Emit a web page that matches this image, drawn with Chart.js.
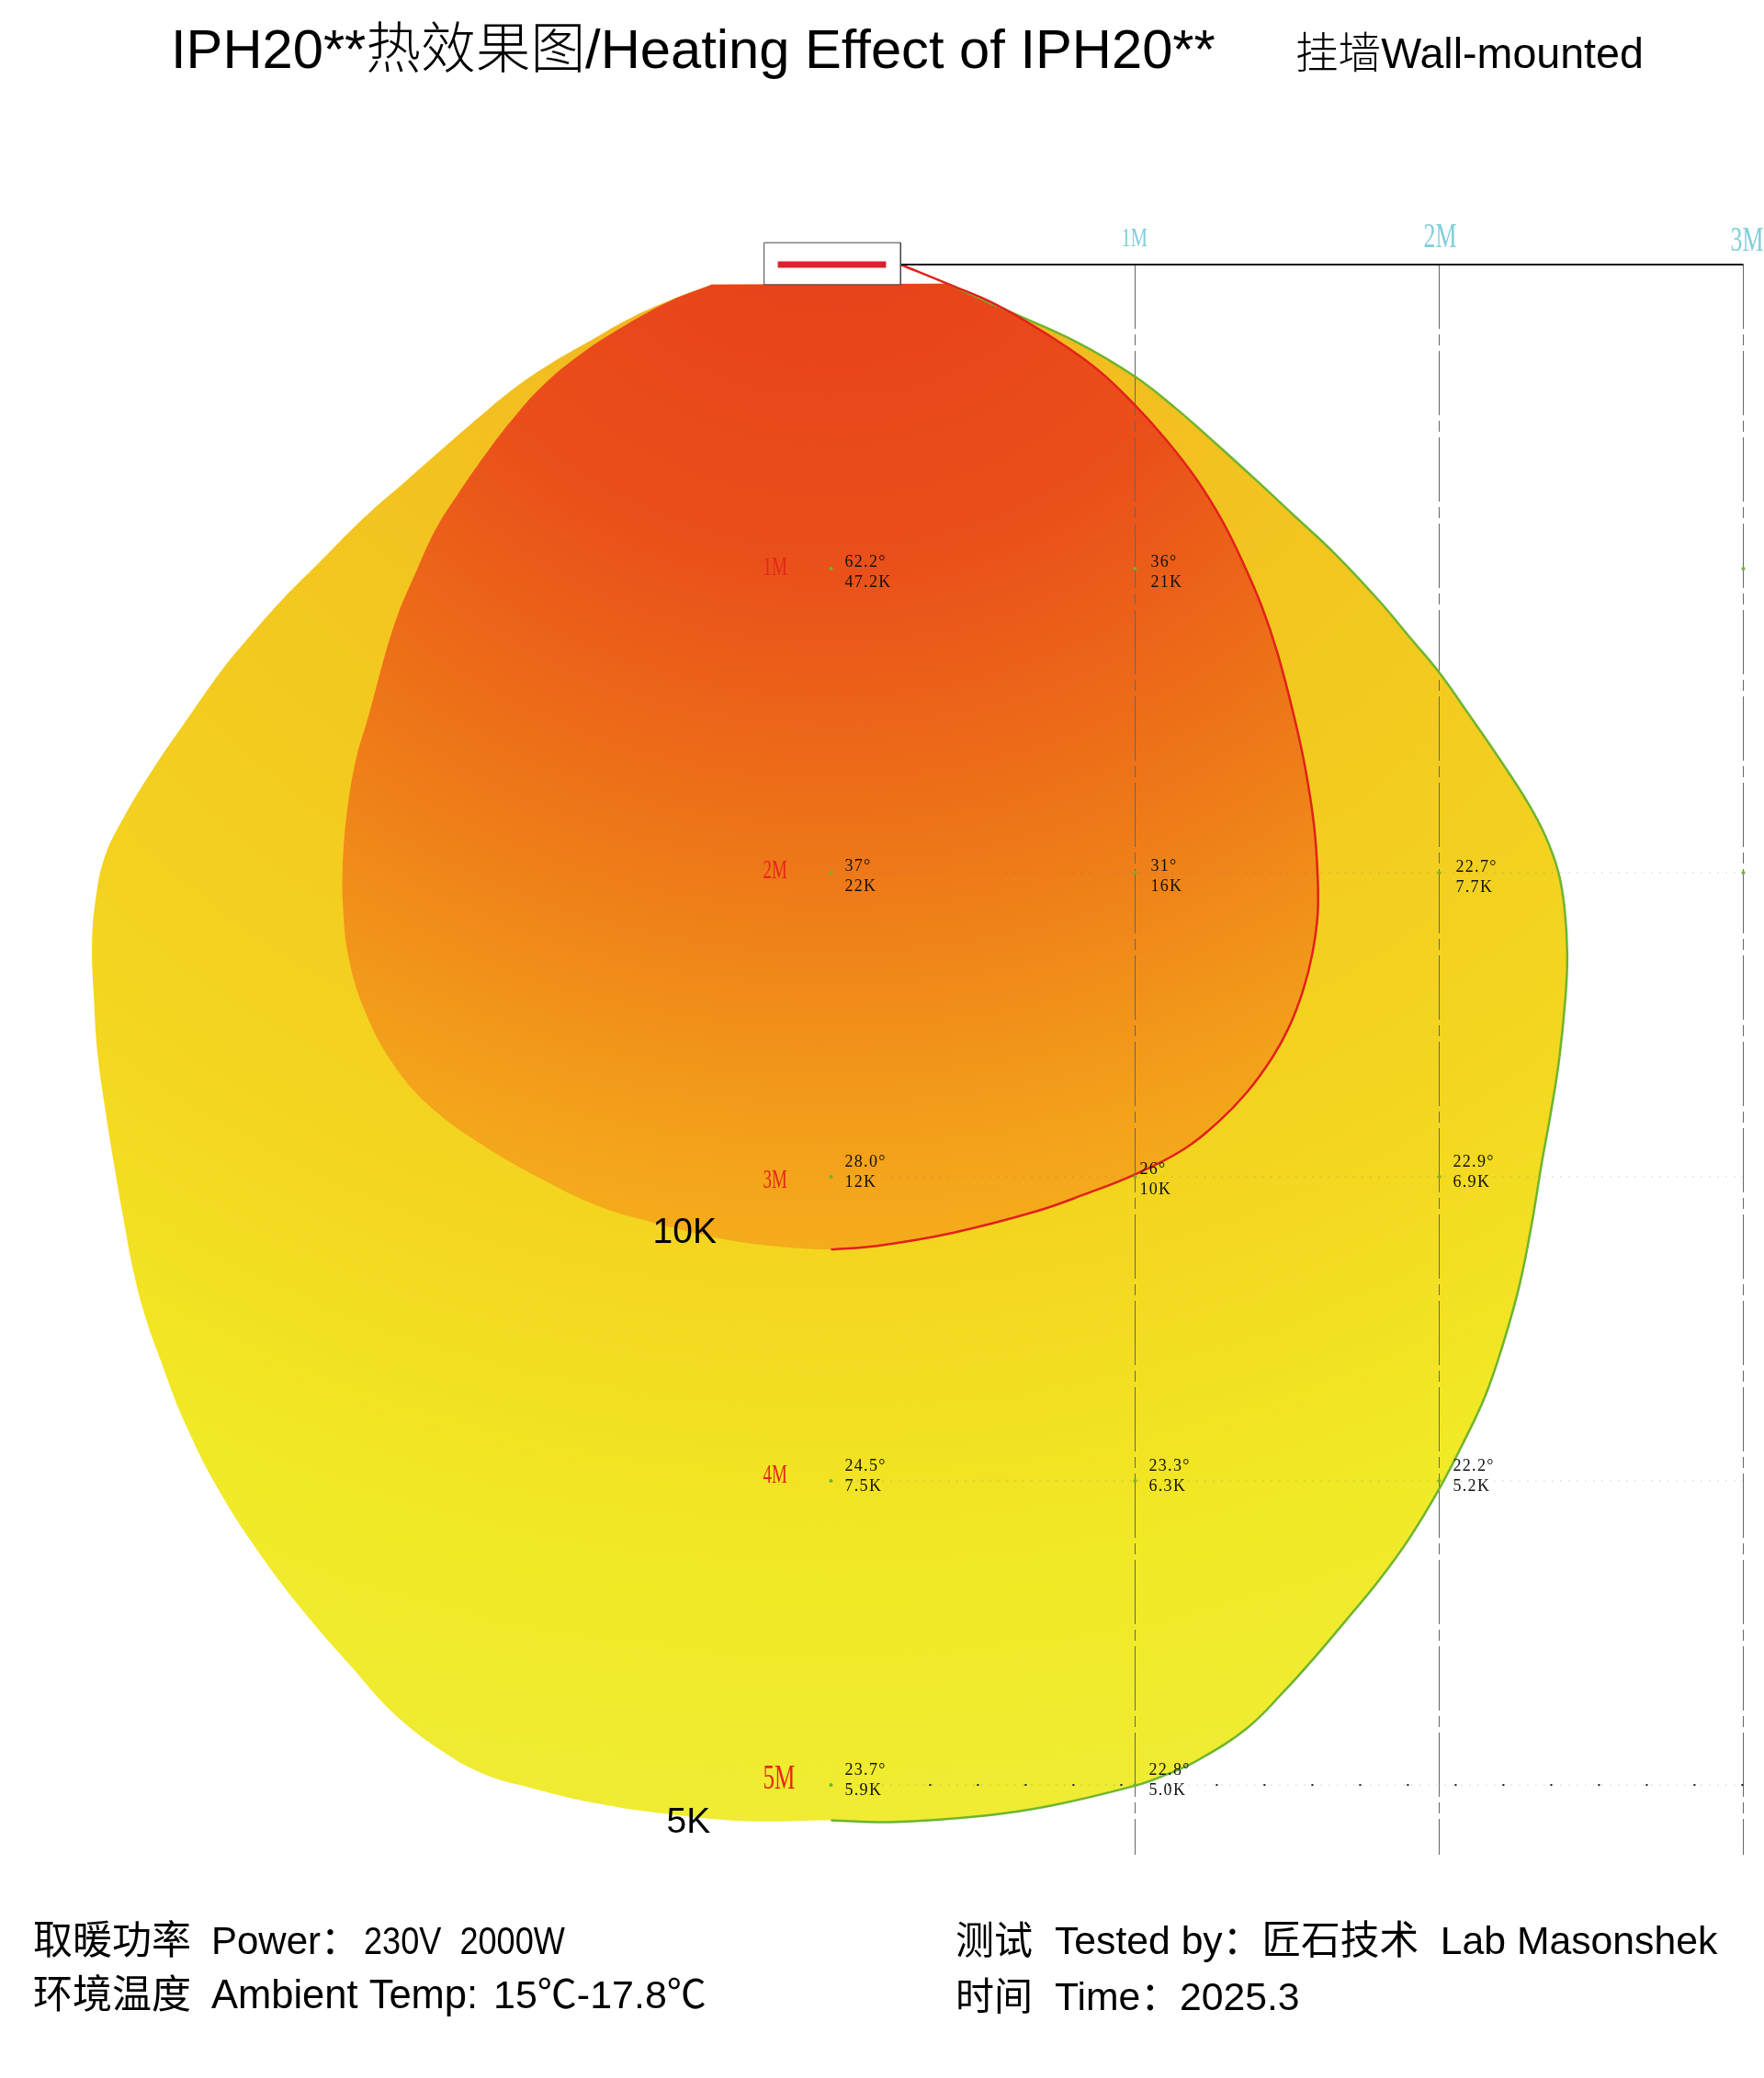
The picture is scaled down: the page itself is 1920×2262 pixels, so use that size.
<!DOCTYPE html>
<html>
<head>
<meta charset="utf-8">
<title>IPH20** Heating Effect</title>
<script src="https://cdn.jsdelivr.net/npm/chart.js@4/dist/chart.umd.min.js"></script>
<style>
  html, body { margin: 0; padding: 0; background: #fff; }
  canvas { display: block; }
</style>
</head>
<body>
<canvas id="heatChart" width="1920" height="2262"></canvas>
<script>
// all positions in metres: x = sideways from the heater, y = distance from the wall
var outerRight = [[.383,.063],[.592,.157],[.812,.257],[.999,.368],[1.135,.474],[1.256,.580],[1.398,.709],[1.518,.821],
  [1.657,.951],[1.799,1.102],[1.911,1.235],[2.001,1.343],[2.095,1.476],[2.197,1.624],[2.291,1.769],[2.348,1.877],
  [2.391,1.995],[2.412,2.116],[2.421,2.270],[2.415,2.412],[2.394,2.617],[2.366,2.795],[2.336,2.961],[2.306,3.145],
  [2.264,3.356],[2.209,3.553],[2.152,3.719],[2.077,3.879],[1.998,4.030],[1.899,4.193],[1.799,4.331],[1.699,4.452],
  [1.597,4.573],[1.488,4.694],[1.367,4.814],[1.204,4.920],[1.105,4.965],[1.002,5.002],[.724,5.068],[.504,5.101],
  [.196,5.122],[0,5.116]];
var outerLeft = [[-.272,5.119],[-.516,5.098],[-.764,5.062],[-.993,5.008],[-1.147,4.962],[-1.286,4.884],[-1.440,4.763],
  [-1.579,4.609],[-1.733,4.431],[-1.871,4.250],[-2.010,4.036],[-2.125,3.809],[-2.203,3.607],[-2.258,3.450],[-2.297,3.296],
  [-2.327,3.136],[-2.357,2.964],[-2.385,2.789],[-2.412,2.593],[-2.424,2.409],[-2.430,2.237],[-2.418,2.086],[-2.388,1.947],
  [-2.327,1.820],[-2.228,1.657],[-2.110,1.485],[-2.010,1.343],[-1.917,1.229],[-1.796,1.093],[-1.687,.984],[-1.533,.830],
  [-1.395,.709],[-1.262,.592],[-1.132,.480],[-1.026,.395],[-.918,.323],[-.803,.257],[-.670,.181],[-.531,.118],[-.392,.066]];
var innerRight = [[.229,0],[.383,.063],[.546,.133],[.724,.238],[.875,.344],[.999,.462],[1.105,.580],[1.204,.709],
  [1.286,.842],[1.355,.981],[1.416,1.123],[1.467,1.274],[1.521,1.479],[1.558,1.648],[1.588,1.841],[1.600,2.007],
  [1.600,2.140],[1.582,2.270],[1.551,2.391],[1.506,2.508],[1.449,2.611],[1.367,2.723],[1.274,2.819],[1.159,2.910],
  [1.002,2.991],[.833,3.058],[.670,3.115],[.401,3.184],[.151,3.227],[0,3.239]];
var innerLeft = [[-.223,3.224],[-.377,3.200],[-.595,3.148],[-.764,3.097],[-.948,3.009],[-1.147,2.895],[-1.319,2.768],
  [-1.440,2.629],[-1.533,2.454],[-1.588,2.270],[-1.606,2.086],[-1.606,1.983],[-1.594,1.820],[-1.564,1.636],[-1.521,1.485],
  [-1.494,1.385],[-1.464,1.274],[-1.425,1.153],[-1.370,1.023],[-1.301,.872],[-1.225,.752],[-1.141,.631],[-1.056,.519],
  [-.948,.398],[-.821,.293],[-.685,.205],[-.531,.121],[-.392,.066]];

var sideDistances = [1, 2, 3];
var sideLabels = ['1M', '2M', '3M'];
var wallDistances = [1, 2, 3, 4, 5];
var wallLabels = ['1M', '2M', '3M', '4M', '5M'];

var readingX = [0, 0, 0, 0, 0, 1, 1, 1, 1, 1, 2, 2, 2];
var readingY = [1, 2, 3, 4, 5, 1, 2, 3, 4, 5, 2, 3, 4];
var readingTemp = ['62.2°', '37°', '28.0°', '24.5°', '23.7°', '36°', '31°', '26°', '23.3°', '22.8°', '22.7°', '22.9°', '22.2°'];
var readingLux = ['47.2K', '22K', '12K', '7.5K', '5.9K', '21K', '16K', '10K', '6.3K', '5.0K', '7.7K', '6.9K', '5.2K'];
var extraDotX = [3, 3];
var extraDotY = [1, 2];

var heaterBox = [[-.220,-.072],[.229,-.072],[.229,.066],[-.220,.066],[-.220,-.072]];
var heaterBar = [[-.175,0],[.181,0]];

// page layout
var PX_PER_M = 331, ORIGIN_X = 904.5, ORIGIN_Y = 288;
var SANS = '"Liberation Sans", "Noto Sans CJK SC", sans-serif';
var SERIF = '"Liberation Serif", "Noto Sans CJK SC", serif';

function toPoints(list) {
  return list.map(function (p) { return { x: p[0], y: p[1] }; });
}

function radial(chart, radius, stops) {
  if (!chart.chartArea) return 'transparent';
  // both heat zones fade from one spot just behind the wall
  var px = chart.scales.x.getPixelForValue(0);
  var py = chart.scales.y.getPixelForValue(-.56);
  var g = chart.ctx.createRadialGradient(px, py, 0, px, py, radius * PX_PER_M);
  stops.forEach(function (s) { g.addColorStop(s[0], s[1]); });
  return g;
}

function lineSet(points, color, width, dash, order) {
  return {
    data: toPoints(points), showLine: true, fill: false, pointRadius: 0,
    borderColor: color, borderWidth: width, borderDash: dash || [], tension: 0, order: order
  };
}

var datasets = [];

datasets.push({
  data: toPoints(outerRight.concat(outerLeft)), showLine: true, pointRadius: 0, borderWidth: 0, tension: .4, order: 20,
  fill: 'shape',
  backgroundColor: function (c) {
    return radial(c.chart, 5.7, [[.12, '#F2B31F'], [.23, '#F2BE20'], [.49, '#F3CB1F'], [.64, '#F3D420'], [.69, '#F4D720'], [.85, '#F1E925'], [1, '#EFEC33']]);
  }
});
datasets.push({
  data: toPoints(innerRight.slice(1).concat(innerLeft)), showLine: true, pointRadius: 0, borderWidth: 0, tension: .4, order: 19,
  fill: 'shape',
  backgroundColor: function (c) {
    return radial(c.chart, 3.8, [[.17, '#E8431A'], [.41, '#EA501A'], [.67, '#EE7818'], [.94, '#F4A51B'], [1, '#F5AC1C']]);
  }
});

var outerEdge = lineSet(outerRight, '#6DB52E', 2.5, null, 12);
outerEdge.tension = .4;
datasets.push(outerEdge);
var innerEdge = lineSet(innerRight, '#E3201B', 2.5, null, 11);
innerEdge.tension = .4;
datasets.push(innerEdge);

sideDistances.forEach(function (d) {
  datasets.push(lineSet([[d, 0], [d, 5.23]], '#666', 1, [70, 6, 12, 6], 15));
});
[2, 3, 4, 5].forEach(function (d) {
  datasets.push(lineSet([[.06, d], [3, d]], 'rgba(110,110,110,.5)', 1, [1, 8], 14));
});
datasets.push(lineSet([[.323, 5], [3, 5]], '#222', 2, [2, 50], 13));
datasets.push(lineSet([[.229, 0], [3, 0]], '#111', 2, null, 10));

var whiteBox = lineSet(heaterBox, '#444', 1, null, 9);
whiteBox.fill = 'shape';
whiteBox.backgroundColor = '#fff';
datasets.push(whiteBox);
datasets.push(lineSet(heaterBar, '#D9232E', 7, null, 8));

datasets.push({
  data: readingX.map(function (x, i) { return { x: x, y: readingY[i] }; })
    .concat(extraDotX.map(function (x, i) { return { x: x, y: extraDotY[i] }; })),
  showLine: false, pointRadius: 2, pointBackgroundColor: '#6DB52E', pointBorderWidth: 0, order: 1
});

function put(ctx, text, x, y, font, color, squeeze, spacing) {
  ctx.save();
  ctx.translate(x, y);
  if (squeeze) ctx.scale(squeeze, 1);
  ctx.font = font;
  ctx.fillStyle = color;
  ctx.textBaseline = 'alphabetic';
  ctx.textAlign = 'left';
  ctx.letterSpacing = spacing || '0px';
  ctx.fillText(text, 0, 0);
  ctx.restore();
}

// small shifts where a reading sits away from its usual place: "col,row": [dx, dy]
var readingNudge = { '1,1': [2, 0], '1,2': [2, 0], '1,3': [-10, 8], '2,2': [3, 1] };
var readingLift = { 1: -2, 2: -2, 3: -11, 4: -11, 5: -11 };
var readingDrop = { 1: 20, 2: 20, 3: 11, 4: 11, 5: 11 };

var sideLabelFont = [30, 38, 38];
var sideLabelLeft = [-15, -17, -14];
var sideLabelBase = [-20, -19, -15];
var wallLabelDrop = [7, 6, 12, 2, 4];

var textPlugin = {
  id: 'chartText',
  afterDatasetsDraw: function (chart) {
    var ctx = chart.ctx, sx = chart.scales.x, sy = chart.scales.y;

    sideDistances.forEach(function (d, i) {
      put(ctx, sideLabels[i], sx.getPixelForValue(d) + sideLabelLeft[i], sy.getPixelForValue(0) + sideLabelBase[i],
        sideLabelFont[i] + 'px ' + SERIF, '#7ECFDA', .68);
    });
    wallDistances.forEach(function (d, i) {
      var big = d === 5;
      put(ctx, wallLabels[i], sx.getPixelForValue(0) - 74, sy.getPixelForValue(d) + wallLabelDrop[i],
        (big ? 38 : 30) + 'px ' + SERIF, '#E6261B', big ? .66 : .63);
    });
    readingX.forEach(function (x, i) {
      var row = readingY[i], n = readingNudge[x + ',' + row] || [0, 0];
      var px = sx.getPixelForValue(x) + 15 + n[0], py = sy.getPixelForValue(row);
      put(ctx, readingTemp[i], px, py + readingLift[row] + n[1], '18px ' + SERIF, '#111', 1, '1.3px');
      put(ctx, readingLux[i], px, py + readingDrop[row] + n[1], '18px ' + SERIF, '#111', 1, '1.3px');
    });
    put(ctx, '10K', sx.getPixelForValue(0) - 194, sy.getPixelForValue(3.218), '39px ' + SANS, '#000');
    put(ctx, '5K', sx.getPixelForValue(0) - 179, sy.getPixelForValue(5.158), '39px ' + SANS, '#000');

    put(ctx, 'IPH20**热效果图/Heating Effect of IPH20**', 186, 74, '300 59.7px ' + SANS, '#000');
    put(ctx, '挂墙Wall-mounted', 1410, 74, '300 46.6px ' + SANS, '#000');

    put(ctx, '取暖功率', 36, 2127, '43px ' + SANS, '#000');
    put(ctx, 'Power：', 230, 2127, '42px ' + SANS, '#000');
    put(ctx, '230V  2000W', 396, 2127, '42px ' + SANS, '#000', .86);
    put(ctx, '环境温度', 36, 2186, '43px ' + SANS, '#000');
    put(ctx, 'Ambient Temp:', 230, 2186, '43.5px ' + SANS, '#000');
    put(ctx, '15℃-17.8℃', 537, 2186, '43px ' + SANS, '#000');
    put(ctx, '测试', 1040, 2127, '42px ' + SANS, '#000');
    put(ctx, 'Tested by：匠石技术  Lab Masonshek', 1148, 2127, '42.7px ' + SANS, '#000');
    put(ctx, '时间', 1040, 2188, '42px ' + SANS, '#000');
    put(ctx, 'Time：2025.3', 1148, 2188, '42.7px ' + SANS, '#000');
  }
};

var chart_heat = new Chart(document.getElementById('heatChart').getContext('2d'), {
  type: 'scatter',
  data: { datasets: datasets },
  plugins: [textPlugin],
  options: {
    responsive: false,
    animation: false,
    layout: { padding: 0, autoPadding: false },
    plugins: { legend: { display: false }, tooltip: { enabled: false }, title: { display: false } },
    scales: {
      x: { type: 'linear', display: false, min: -ORIGIN_X / PX_PER_M, max: (1920 - ORIGIN_X) / PX_PER_M },
      y: { type: 'linear', display: false, reverse: true, min: -ORIGIN_Y / PX_PER_M, max: (2262 - ORIGIN_Y) / PX_PER_M }
    }
  }
});
</script>
</body>
</html>
